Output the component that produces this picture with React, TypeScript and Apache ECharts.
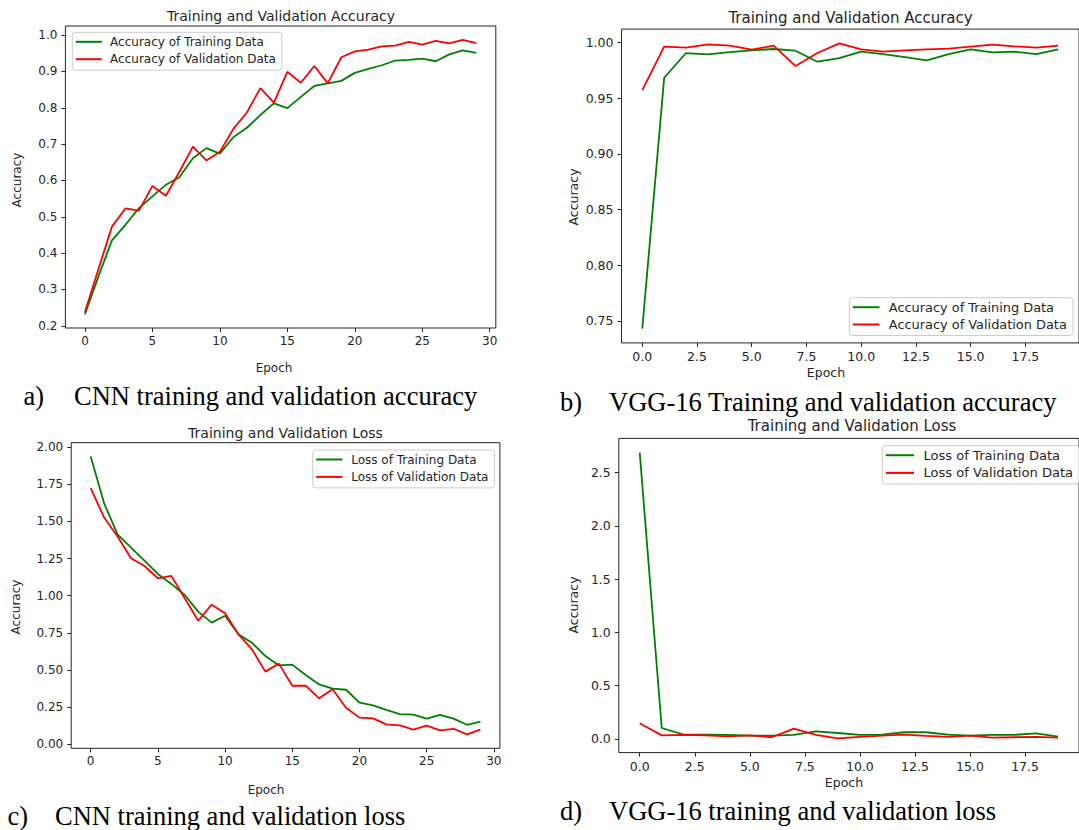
import React, { useEffect, useRef } from "react";
import * as echarts from "echarts";

// ---------- data ----------
const cnnEpochs = [0, 1, 2, 3, 4, 5, 6, 7, 8, 9, 10, 11, 12, 13, 14, 15, 16, 17, 18, 19, 20, 21, 22, 23, 24, 25, 26, 27, 28, 29];
const vggEpochs = [0, 1, 2, 3, 4, 5, 6, 7, 8, 9, 10, 11, 12, 13, 14, 15, 16, 17, 18, 19];

const cnnTrainAcc = [0.232, 0.336, 0.435, 0.478, 0.524, 0.556, 0.588, 0.609, 0.661, 0.689, 0.674, 0.719, 0.745, 0.78, 0.812, 0.799, 0.83, 0.86, 0.867, 0.874, 0.896, 0.907, 0.917, 0.93, 0.932, 0.935, 0.928, 0.947, 0.958, 0.951];
const cnnValAcc = [0.238, 0.356, 0.473, 0.523, 0.517, 0.585, 0.558, 0.624, 0.693, 0.655, 0.679, 0.742, 0.787, 0.854, 0.814, 0.899, 0.869, 0.915, 0.867, 0.939, 0.955, 0.96, 0.969, 0.971, 0.981, 0.974, 0.984, 0.977, 0.987, 0.978];

const vggTrainAcc = [0.743, 0.9685, 0.9907, 0.9895, 0.9916, 0.9931, 0.9943, 0.9928, 0.9829, 0.9862, 0.9919, 0.9898, 0.9871, 0.9841, 0.9898, 0.994, 0.9913, 0.9919, 0.9898, 0.994];
const vggValAcc = [0.9574, 0.9964, 0.9955, 0.9985, 0.9973, 0.9937, 0.9973, 0.979, 0.9907, 0.9994, 0.994, 0.9919, 0.9931, 0.994, 0.9946, 0.9964, 0.9982, 0.9967, 0.9955, 0.9973];

const cnnTrainLoss = [1.937, 1.622, 1.413, 1.324, 1.236, 1.146, 1.079, 1.004, 0.892, 0.818, 0.865, 0.739, 0.683, 0.593, 0.53, 0.535, 0.465, 0.402, 0.373, 0.366, 0.279, 0.261, 0.231, 0.202, 0.198, 0.171, 0.196, 0.171, 0.13, 0.151];
const cnnValLoss = [1.724, 1.526, 1.398, 1.252, 1.2, 1.117, 1.133, 0.982, 0.831, 0.939, 0.881, 0.739, 0.638, 0.488, 0.542, 0.393, 0.393, 0.308, 0.369, 0.245, 0.178, 0.173, 0.133, 0.126, 0.097, 0.124, 0.092, 0.103, 0.065, 0.097];

const vggTrainLoss = [2.688, 0.103, 0.041, 0.041, 0.038, 0.031, 0.031, 0.038, 0.072, 0.056, 0.038, 0.041, 0.063, 0.063, 0.041, 0.031, 0.038, 0.038, 0.053, 0.022];
const vggValLoss = [0.147, 0.034, 0.038, 0.034, 0.025, 0.034, 0.016, 0.097, 0.038, 0.006, 0.019, 0.031, 0.041, 0.028, 0.019, 0.031, 0.013, 0.016, 0.019, 0.013];

// tick labels
const cnnEpochTicks = [0, 5, 10, 15, 20, 25, 30];
const vggEpochTicks = [0, 2.5, 5, 7.5, 10, 12.5, 15, 17.5];
const cnnAccTicks = [0.2, 0.3, 0.4, 0.5, 0.6, 0.7, 0.8, 0.9, 1.0];
const vggAccTicks = [0.75, 0.8, 0.85, 0.9, 0.95, 1.0];
const cnnLossTicks = [0, 0.25, 0.5, 0.75, 1.0, 1.25, 1.5, 1.75, 2.0];
const vggLossTicks = [0, 0.5, 1.0, 1.5, 2.0, 2.5];

const accNames = ["Accuracy of Training Data", "Accuracy of Validation Data"];
const lossNames = ["Loss of Training Data", "Loss of Validation Data"];

// ---------- styling ----------
const GREEN = "#008000";
const RED = "#ff0000";
const INK = "#262626";
const SANS = "DejaVu Sans";
const SERIF = "Liberation Serif";

const zip = (xs: number[], ys: number[]) => xs.map((x, i) => [x, ys[i]]);

function axisFor(gridIndex: number, min: number, max: number, ticks: number[], dec: number, fs: number, margin: number) {
  return {
    type: "value",
    gridIndex,
    min,
    max,
    axisLine: { show: false, onZero: false },
    splitLine: { show: false },
    axisTick: { show: true, length: 4, lineStyle: { color: INK, width: 1 }, customValues: ticks },
    axisLabel: {
      customValues: ticks,
      formatter: (v: number) => v.toFixed(dec),
      fontSize: fs,
      fontFamily: SANS,
      color: INK,
      margin,
    },
  };
}

function lineSeries(name: string, idx: number, xs: number[], ys: number[], color: string) {
  return {
    type: "line",
    name,
    xAxisIndex: idx,
    yAxisIndex: idx,
    data: zip(xs, ys),
    showSymbol: false,
    symbol: "none",
    color,
    itemStyle: { color },
    lineStyle: { width: 1.8, color },
  };
}

function legendFor(names: string[], left: number, top: number, fs: number, iw: number, gap: number, textGap: number) {
  return {
    data: names,
    orient: "vertical",
    left,
    top,
    padding: [2.5, 6, 4, 3.5],
    itemGap: gap,
    itemWidth: iw,
    itemHeight: 2,
    icon: "rect",
    selectedMode: false,
    backgroundColor: "rgba(255,255,255,0.85)",
    borderColor: "#cccccc",
    borderWidth: 1,
    borderRadius: 3,
    textStyle: { fontFamily: SANS, fontSize: fs, color: INK, lineHeight: 14, padding: [0, 0, 0, textGap] },
  };
}

function txt(text: string, x: number, y: number, fs: number, family: string, opts: any = {}) {
  return {
    type: "text",
    x,
    y,
    rotation: opts.rotation || 0,
    silent: true,
    style: {
      text,
      font: `${fs}px "${family}"`,
      fill: opts.fill || INK,
      align: opts.align || "center",
      textAlign: opts.align || "center",
      verticalAlign: "middle",
      textVerticalAlign: "middle",
    },
  };
}

const option = {
  animation: false,
  backgroundColor: "#ffffff",
  grid: [
    { left: 65.4, top: 26, width: 430.4, height: 302, show: true, borderColor: INK, borderWidth: 1, backgroundColor: "transparent" },
    { left: 621.5, top: 29.1, width: 458.3, height: 313.8, show: true, borderColor: INK, borderWidth: 1, backgroundColor: "transparent" },
    { left: 71.2, top: 442.7, width: 428.7, height: 305.6, show: true, borderColor: INK, borderWidth: 1, backgroundColor: "transparent" },
    { left: 618.8, top: 438.4, width: 466.7, height: 314.2, show: true, borderColor: INK, borderWidth: 1, backgroundColor: "transparent" },
  ],
  xAxis: [
    axisFor(0, -1.45, 30.45, cnnEpochTicks, 0, 12, 7),
    axisFor(1, -0.95, 19.95, vggEpochTicks, 1, 12.5, 7),
    axisFor(2, -1.45, 30.45, cnnEpochTicks, 0, 12, 7),
    axisFor(3, -0.95, 19.95, vggEpochTicks, 1, 12.5, 7),
  ],
  yAxis: [
    axisFor(0, 0.194, 1.025, cnnAccTicks, 1, 12, 8),
    axisFor(1, 0.7302, 1.0122, vggAccTicks, 2, 12.5, 8),
    axisFor(2, -0.0286, 2.0306, cnnLossTicks, 2, 12, 8),
    axisFor(3, -0.1281, 2.8221, vggLossTicks, 1, 12.5, 8),
  ],
  legend: [
    legendFor(accNames, 72.3, 32.3, 12, 26, 3.4, 3.3),
    legendFor(accNames, 849.3, 297.7, 12.9, 26.7, 3.3, 4.3),
    legendFor(lossNames, 312.7, 450, 12, 26.3, 3.4, 3.7),
    legendFor(lossNames, 882.3, 445.7, 13.1, 28.3, 3.7, 4.3),
  ],
  series: [
    lineSeries(accNames[0], 0, cnnEpochs, cnnTrainAcc, GREEN),
    lineSeries(accNames[1], 0, cnnEpochs, cnnValAcc, RED),
    lineSeries(accNames[0], 1, vggEpochs, vggTrainAcc, GREEN),
    lineSeries(accNames[1], 1, vggEpochs, vggValAcc, RED),
    lineSeries(lossNames[0], 2, cnnEpochs, cnnTrainLoss, GREEN),
    lineSeries(lossNames[1], 2, cnnEpochs, cnnValLoss, RED),
    lineSeries(lossNames[0], 3, vggEpochs, vggTrainLoss, GREEN),
    lineSeries(lossNames[1], 3, vggEpochs, vggValLoss, RED),
  ],
  graphic: {
    elements: [
      // subplot titles
      txt("Training and Validation Accuracy", 281, 15.5, 14, SANS),
      txt("Training and Validation Accuracy", 850.5, 18, 15, SANS),
      txt("Training and Validation Loss", 285.5, 433, 14, SANS),
      txt("Training and Validation Loss", 852, 426, 15, SANS),
      // x axis labels
      txt("Epoch", 274, 368, 12, SANS),
      txt("Epoch", 826, 372.7, 12.5, SANS),
      txt("Epoch", 266, 790, 12, SANS),
      txt("Epoch", 844, 782, 12.5, SANS),
      // y axis labels
      txt("Accuracy", 17, 180, 12, SANS, { rotation: Math.PI / 2 }),
      txt("Accuracy", 573, 197, 12.5, SANS, { rotation: Math.PI / 2 }),
      txt("Accuracy", 16, 607, 12, SANS, { rotation: Math.PI / 2 }),
      txt("Accuracy", 573, 605, 12.5, SANS, { rotation: Math.PI / 2 }),
      // captions
      txt("a)", 23.4, 396, 26.5, SERIF, { align: "left", fill: "#000" }),
      txt("CNN training and validation accuracy", 74, 396, 26.5, SERIF, { align: "left", fill: "#000" }),
      txt("b)", 560, 402, 26.5, SERIF, { align: "left", fill: "#000" }),
      txt("VGG-16 Training and validation accuracy", 609, 402, 26.5, SERIF, { align: "left", fill: "#000" }),
      txt("c)", 7.6, 816, 26.5, SERIF, { align: "left", fill: "#000" }),
      txt("CNN training and validation loss", 55, 816, 26.5, SERIF, { align: "left", fill: "#000" }),
      txt("d)", 560, 811, 26.5, SERIF, { align: "left", fill: "#000" }),
      txt("VGG-16 training and validation loss", 609, 811, 26.5, SERIF, { align: "left", fill: "#000" }),
    ],
  },
};

export default function App() {
  const ref = useRef<HTMLDivElement>(null);
  useEffect(() => {
    if (!ref.current) return;
    const chart = echarts.init(ref.current, null, { renderer: "svg" });
    chart.setOption(option as any);
    return () => chart.dispose();
  }, []);
  return (
    <div
      ref={ref}
      style={{ position: "fixed", left: 0, top: 0, width: 1079, height: 830, background: "#fff" }}
    />
  );
}
